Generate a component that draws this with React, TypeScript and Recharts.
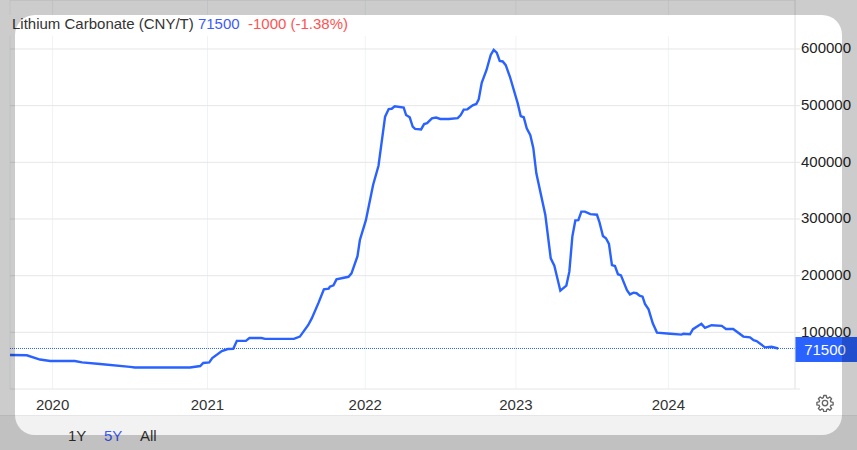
import { LineChart, Line, XAxis, YAxis, CartesianGrid, ReferenceLine } from 'recharts';

// x is trading days since the start of the window
const sessions = [0, 28, 50, 67, 108, 120, 150, 200, 208, 300, 317, 322, 332, 337, 353, 363, 372, 378, 393, 399, 419, 425, 473, 483, 497, 503, 514, 523, 531, 533, 539, 544, 564, 569, 579, 583, 593, 605, 614, 625, 631, 636, 641, 656, 660, 666, 671, 675, 685, 690, 695, 703, 710, 717, 731, 746, 751, 756, 762, 771, 777, 781, 786, 794, 801, 806, 811, 816, 821, 826, 833, 846, 851, 856, 861, 867, 872, 877, 892, 901, 907, 917, 927, 932, 937, 942, 947, 952, 958, 967, 978, 982, 988, 993, 998, 1003, 1008, 1013, 1018, 1028, 1033, 1039, 1044, 1049, 1054, 1058, 1064, 1071, 1078, 1100, 1119, 1122, 1133, 1138, 1152, 1158, 1169, 1186, 1193, 1205, 1222, 1233, 1239, 1244, 1258, 1269, 1280];
const prices = [60000, 59500, 52000, 49500, 49500, 47000, 44000, 39000, 38000, 38000, 40500, 46000, 47000, 54500, 67000, 70500, 71000, 85000, 85000, 90000, 90000, 88500, 88500, 92500, 113000, 125000, 152000, 176000, 177000, 180500, 183000, 193500, 198000, 204000, 234500, 263000, 298000, 360000, 394000, 480500, 494000, 494500, 499000, 496500, 483500, 479500, 463000, 459000, 458000, 467500, 469000, 477500, 479000, 476500, 476500, 478000, 483500, 493000, 493500, 500500, 503000, 511000, 540500, 563000, 589500, 598500, 593500, 579000, 578000, 571500, 551000, 504000, 481500, 479500, 460000, 448000, 425000, 380500, 307000, 230500, 217500, 173500, 182500, 207000, 269000, 297500, 298000, 313000, 313000, 308500, 307500, 295000, 270000, 266000, 256000, 218500, 217000, 202500, 200500, 174500, 167000, 170000, 169000, 164500, 163000, 150000, 140500, 116000, 99500, 97500, 96000, 97500, 96500, 105500, 115000, 108000, 112500, 111500, 106000, 106000, 92500, 91000, 86000, 84500, 73500, 74500, 71500];
const yearTicks = [71, 329, 592, 843, 1097];
const yearLabels = ['2020', '2021', '2022', '2023', '2024'];
const priceTicks = [0, 100000, 200000, 300000, 400000, 500000, 600000];
const lastPrice = 71500;

const data = sessions.map((session, i) => ({ session, price: prices[i] }));

const FONT = '"Liberation Sans", Arial, sans-serif';
const BLUE = '#2962ff';

function LastPriceTag({ viewBox }: any) {
  const x = viewBox.x + viewBox.width;
  const y = viewBox.y;
  return (
    <g>
      <rect x={x} y={y - 11.5} width={62} height={25} fill={BLUE} />
      <text x={x + 30} y={y + 6.5} textAnchor="middle" fill="#ffffff" fontSize={15} fontFamily={FONT}>
        {lastPrice}
      </text>
    </g>
  );
}

function Gear() {
  return (
    <svg width={18} height={18} viewBox="0 0 24 24" style={{ position: 'absolute', left: 816, top: 394 }}>
      <path
        fill="none"
        stroke="#666"
        strokeWidth={1.8}
        strokeLinejoin="round"
        d="M10.3 2h3.4l.5 2.9 1.8.8 2.4-1.7 2.4 2.4-1.7 2.4.8 1.8 2.9.5v3.4l-2.9.5-.8 1.8 1.7 2.4-2.4 2.4-2.4-1.7-1.8.8-.5 2.9h-3.4l-.5-2.9-1.8-.8-2.4 1.7-2.4-2.4 1.7-2.4-.8-1.8-2.9-.5v-3.4l2.9-.5.8-1.8-1.7-2.4 2.4-2.4 2.4 1.7 1.8-.8z"
      />
      <circle cx={12} cy={12} r={3.6} fill="none" stroke="#666" strokeWidth={1.8} />
    </svg>
  );
}

export default function App() {
  return (
    <div style={{ position: 'absolute', left: 0, top: 0, width: 857, height: 450, overflow: 'hidden', background: '#fff', fontFamily: FONT }}>
      <div style={{ position: 'absolute', left: 0, top: 415, width: 857, height: 35, background: '#f2f2f2', borderTop: '1px solid #e6e6e6', boxSizing: 'border-box' }} />
      <div style={{ position: 'absolute', left: 0, top: 0 }}>
        <LineChart width={857} height={415} data={data} margin={{ top: 0, right: 0, left: 10, bottom: 0 }}>
          <CartesianGrid horizontal={false} stroke="#f0f3f6" />
          <CartesianGrid vertical={false} stroke="#e6e6e6" />
          <XAxis
            dataKey="session"
            type="number"
            domain={[0, 1308]}
            ticks={yearTicks}
            tickFormatter={(v) => yearLabels[yearTicks.indexOf(v)]}
            height={26}
            axisLine={false}
            tickLine={false}
            interval={0}
            dy={2}
            tick={{ fill: '#333333', fontSize: 15, fontFamily: FONT }}
          />
          <YAxis
            orientation="right"
            type="number"
            domain={[0, 686441]}
            ticks={priceTicks}
            tickFormatter={(v) => (v === 0 ? '' : String(v))}
            width={62}
            interval={0}
            allowDataOverflow
            axisLine={{ stroke: '#e6e6e6' }}
            tickLine={{ stroke: '#e6e6e6' }}
            tickSize={5}
            tickMargin={1}
            dy={-1}
            tick={{ fill: '#222222', fontSize: 15, fontFamily: FONT }}
          />
          <Line type="linear" dataKey="price" stroke={BLUE} strokeWidth={2.4} dot={false} isAnimationActive={false} />
          <ReferenceLine y={lastPrice} stroke={BLUE} strokeDasharray="1 1" label={<LastPriceTag />} />
        </LineChart>
      </div>
      <Gear />
      {/* header strip hides the grid behind the title */}
      <div style={{ position: 'absolute', left: 0, top: 15, width: 794, height: 21, background: '#fff' }} />
      <div style={{ position: 'absolute', left: 12, top: 15, fontSize: 15, lineHeight: '18px', whiteSpace: 'pre', color: '#333333' }}>
        Lithium Carbonate (CNY/T) <span style={{ color: '#3d5afe' }}>71500</span>
        {'  '}
        <span style={{ color: '#ff5252' }}>-1000 (-1.38%)</span>
      </div>
      <div style={{ position: 'absolute', left: 68, top: 427, fontSize: 15, lineHeight: '18px', color: '#333333' }}>1Y</div>
      <div style={{ position: 'absolute', left: 104, top: 427, fontSize: 15, lineHeight: '18px', color: '#3d5afe' }}>5Y</div>
      <div style={{ position: 'absolute', left: 140, top: 427, fontSize: 15, lineHeight: '18px', color: '#333333' }}>All</div>
      {/* dimmed surround with the rounded card cut out */}
      <div style={{ position: 'absolute', left: 15, top: 15, width: 827, height: 420, borderRadius: 20, boxShadow: '0 0 0 1000px rgba(0,0,0,0.2)', pointerEvents: 'none' }} />
    </div>
  );
}
